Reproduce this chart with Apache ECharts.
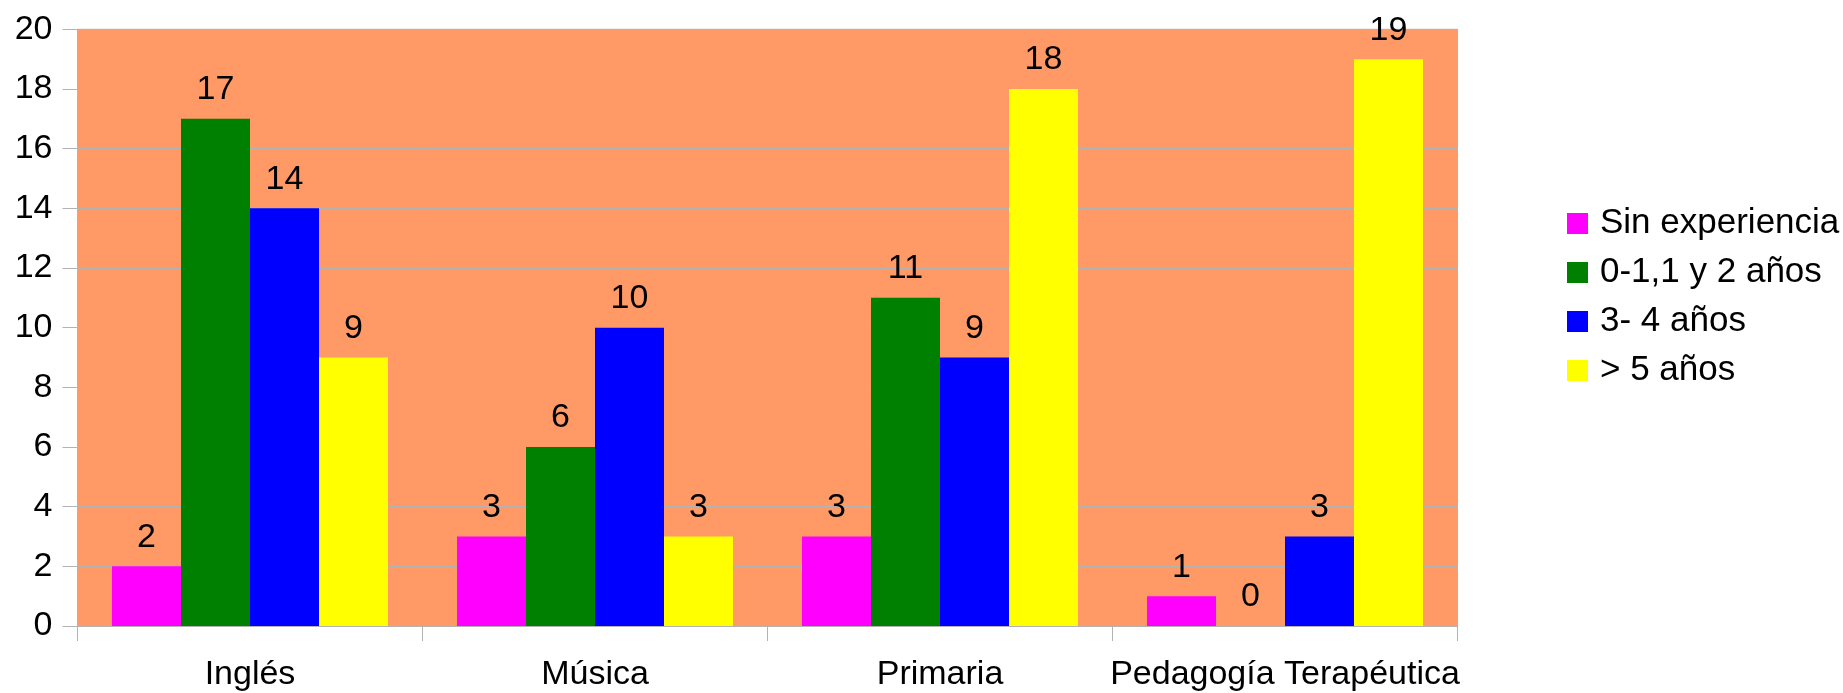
<!DOCTYPE html>
<html>
<head>
<meta charset="utf-8">
<script src="https://cdn.jsdelivr.net/npm/echarts@6/dist/echarts.min.js"></script>
<style>html,body{margin:0;padding:0;background:#fff;}#c{width:1843px;height:693px;}</style>
</head>
<body>
<div id="c"></div>
<script>
const categories = ['Inglés', 'Música', 'Primaria', 'Pedagogía Terapéutica'];
const seriesNames = ['Sin experiencia', '0-1,1 y 2 años', '3- 4 años', '> 5 años'];
const sinExperiencia = [2, 3, 3, 1];
const anos0a2 = [17, 6, 11, 0];
const anos3a4 = [14, 10, 9, 3];
const mas5 = [9, 3, 18, 19];
const colors = ['#ff00ff', '#008000', '#0000ff', '#ffff00'];
const yTicks = { min: 0, max: 20, interval: 2 };

const FONT = 'Liberation Sans';
const values = [sinExperiencia, anos0a2, anos3a4, mas5];
const chart = echarts.init(document.getElementById('c'));
chart.setOption({
  animation: false,
  textStyle: { fontFamily: FONT },
  grid: {
    left: 77.5, right: 385.5, top: 29.3, bottom: 67,
    show: true, backgroundColor: '#ff9966', borderColor: '#b3b3b3', borderWidth: 1
  },
  legend: {
    orient: 'vertical', left: 1567, top: 206, padding: 0,
    itemWidth: 21, itemHeight: 21, itemGap: 14,
    icon: 'rect',
    textStyle: { fontSize: 35, lineHeight: 35, color: '#000', fontFamily: FONT, padding: [0, 0, 0, 7] },
    data: seriesNames
  },
  xAxis: {
    type: 'category', data: categories,
    axisLine: { show: true, lineStyle: { color: '#b3b3b3' } },
    axisTick: { show: true, length: 15, lineStyle: { color: '#b3b3b3' } },
    axisLabel: { fontSize: 34, color: '#000', margin: 32, fontFamily: FONT, interval: 0 }
  },
  yAxis: {
    type: 'value', min: yTicks.min, max: yTicks.max, interval: yTicks.interval,
    axisLine: { show: true, lineStyle: { color: '#b3b3b3' } },
    axisTick: { show: true, length: 15, lineStyle: { color: '#b3b3b3' } },
    splitLine: { show: true, lineStyle: { color: '#b3b3b3' } },
    axisLabel: { fontSize: 34, color: '#000', margin: 25, fontFamily: FONT }
  },
  series: seriesNames.map((n, i) => ({
    name: n, type: 'bar', data: values[i],
    itemStyle: { color: colors[i] },
    barGap: '0%', barCategoryGap: '20%',
    label: { show: true, position: 'top', distance: 12, fontSize: 34, color: '#000', fontFamily: FONT }
  }))
});
</script>
</body>
</html>
